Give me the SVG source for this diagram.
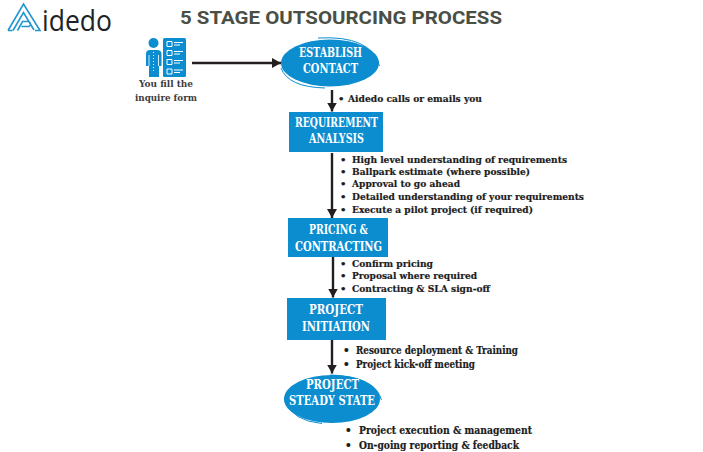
<svg xmlns="http://www.w3.org/2000/svg" width="703" height="452" viewBox="0 0 703 452">
<defs>
<marker id="ah" markerUnits="userSpaceOnUse" markerWidth="9" markerHeight="11" refX="9" refY="5.500" orient="auto"><path d="M0 0.500L9 5.500L0 10.500Z" fill="#231f20"/></marker>
</defs>
<style>
.fill{fill:#0b8dcf}
.nl{font-family:"DejaVu Serif","Liberation Serif",serif;font-weight:700;font-size:12px;fill:#fff}
.b{font-family:"DejaVu Serif","Liberation Serif",serif;font-weight:700;font-size:10px;fill:#1c1c1c;stroke:#1c1c1c;stroke-width:.2}
.b2{font-size:10.500px}
.g{font-family:"DejaVu Serif","Liberation Serif",serif;font-weight:700;font-size:9.6px;fill:#3c3c3c}
.c{stroke:#231f20;stroke-width:2.4;fill:none;marker-end:url(#ah)}
.sw{fill:none;stroke:#0b8dcf;stroke-width:1}
.ic{fill:none;stroke:#fff;stroke-width:1}
.lg{fill:none;stroke:#1f96cf;stroke-width:1.6;stroke-linejoin:miter}
</style>
<rect width="703" height="452" fill="#fff"/>
<g id="logo">
<path class="lg" d="M8 30.500L23.500 4L40 30.500H35M12.500 30.500H8M13 30.500L23.500 12.500L34 30M17.500 30.500L22.500 21.500H29Q32 24 29 26.500H21.500"/>
<text x="42" y="31" font-family="Open Sans,sans-serif" font-size="29" fill="#1d2327" textLength="70" lengthAdjust="spacingAndGlyphs">idedo</text>
</g>
<text id="title" x="180" y="24" font-family="Roboto,sans-serif" font-weight="700" font-size="18px" fill="#4a4f45" textLength="322" lengthAdjust="spacingAndGlyphs">5 STAGE OUTSOURCING PROCESS</text>
<g id="connectors">
<path class="c" d="M192 63H281"/>
<path class="c" d="M332 90V111.500"/>
<path class="c" d="M332 153V218"/>
<path class="c" d="M333 257V297.500"/>
<path class="c" d="M332 340V373.500"/>
</g>
<g id="form-user">
<circle class="fill" cx="153.500" cy="43" r="5"/>
<path class="fill" d="M146 66V54Q146 50 150 50H157Q161.500 50 161.500 54V66H159V77H149V66Z"/>
<path d="M149 55V66M158.500 55V66" stroke="#fff" stroke-width=".8"/>
<path d="M153.500 52V72" stroke="#fff" stroke-width="1" stroke-dasharray="1 2"/>
<rect class="fill" x="163" y="38" width="23" height="39" rx="1.500"/>
<path class="ic" d="M167 41.500h5v5h-5zM174 42.500h9M174 45h6M167 50.500h5v5h-5zM174 51.500h9M174 54h6M167 59.500h5v5h-5zM174 60.500h9M174 63h6M167 69h5v5h-5zM174 70h9M174 72.500h6"/>
<text class="g" x="139" y="87" textLength="54" lengthAdjust="spacingAndGlyphs">You fill the</text>
<text class="g" x="135" y="101" textLength="62" lengthAdjust="spacingAndGlyphs">inquire form</text>
</g>
<g id="establish-contact">
<ellipse class="fill" cx="330" cy="63" rx="49" ry="23.500"/>
<path class="sw" d="M318 38Q371 35 379.500 66"/>
<path class="sw" d="M281 68Q288 87 325 88"/>
<text class="nl" x="299" y="57" textLength="63" lengthAdjust="spacingAndGlyphs">ESTABLISH</text>
<text class="nl" x="303" y="73" textLength="55" lengthAdjust="spacingAndGlyphs">CONTACT</text>
</g>
<g id="requirement-analysis">
<rect class="fill" x="289" y="112" width="94" height="40"/>
<text class="nl" x="295" y="127" textLength="83" lengthAdjust="spacingAndGlyphs">REQUIREMENT</text>
<text class="nl" x="309" y="143" textLength="55" lengthAdjust="spacingAndGlyphs">ANALYSIS</text>
</g>
<g id="pricing-contracting">
<rect class="fill" x="288" y="218" width="100" height="39"/>
<text class="nl" x="309" y="234" textLength="59" lengthAdjust="spacingAndGlyphs">PRICING &amp;</text>
<text class="nl" x="295" y="251" textLength="87" lengthAdjust="spacingAndGlyphs">CONTRACTING</text>
</g>
<g id="project-initiation">
<rect class="fill" x="287" y="298" width="99" height="42"/>
<text class="nl" x="309" y="314" textLength="54" lengthAdjust="spacingAndGlyphs">PROJECT</text>
<text class="nl" x="302" y="331" textLength="68" lengthAdjust="spacingAndGlyphs">INITIATION</text>
</g>
<g id="project-steady-state">
<ellipse class="fill" cx="332" cy="399" rx="48" ry="24"/>
<path class="sw" d="M330 375Q375 376 381.500 400"/>
<path class="sw" d="M284.500 401Q293 421 322 423.500"/>
<text class="nl" x="306" y="389" textLength="53" lengthAdjust="spacingAndGlyphs">PROJECT</text>
<text class="nl" x="289" y="405" textLength="86" lengthAdjust="spacingAndGlyphs">STEADY STATE</text>
</g>
<g id="notes">
<text class="b" x="338" y="102">•</text><text class="b" x="348" y="102" textLength="134" lengthAdjust="spacingAndGlyphs">Aidedo calls or emails you</text>
<text class="b" x="340" y="163">•</text><text class="b" x="352" y="163" textLength="215" lengthAdjust="spacingAndGlyphs">High level understanding of requirements</text>
<text class="b" x="340" y="175">•</text><text class="b" x="352" y="175" textLength="178" lengthAdjust="spacingAndGlyphs">Ballpark estimate (where possible)</text>
<text class="b" x="340" y="187">•</text><text class="b" x="352" y="187" textLength="108" lengthAdjust="spacingAndGlyphs">Approval to go ahead</text>
<text class="b" x="340" y="200">•</text><text class="b" x="352" y="200" textLength="232" lengthAdjust="spacingAndGlyphs">Detailed understanding of your requirements</text>
<text class="b" x="340" y="213">•</text><text class="b" x="352" y="213" textLength="181" lengthAdjust="spacingAndGlyphs">Execute a pilot project (if required)</text>
<text class="b" x="340" y="267">•</text><text class="b" x="352" y="267" textLength="81" lengthAdjust="spacingAndGlyphs">Confirm pricing</text>
<text class="b" x="340" y="279">•</text><text class="b" x="352" y="279" textLength="125" lengthAdjust="spacingAndGlyphs">Proposal where required</text>
<text class="b" x="340" y="292">•</text><text class="b" x="352" y="292" textLength="138" lengthAdjust="spacingAndGlyphs">Contracting &amp; SLA sign-off</text>
<text class="b b2" x="343" y="354">•</text><text class="b b2" x="356" y="354" textLength="162" lengthAdjust="spacingAndGlyphs">Resource deployment &amp; Training</text>
<text class="b b2" x="343" y="368">•</text><text class="b b2" x="356" y="368" textLength="119" lengthAdjust="spacingAndGlyphs">Project kick-off meeting</text>
<text class="b b2" x="345" y="434">•</text><text class="b b2" x="359" y="434" textLength="173" lengthAdjust="spacingAndGlyphs">Project execution &amp; management</text>
<text class="b b2" x="345" y="449">•</text><text class="b b2" x="359" y="449" textLength="160" lengthAdjust="spacingAndGlyphs">On-going reporting &amp; feedback</text>
</g>
</svg>
